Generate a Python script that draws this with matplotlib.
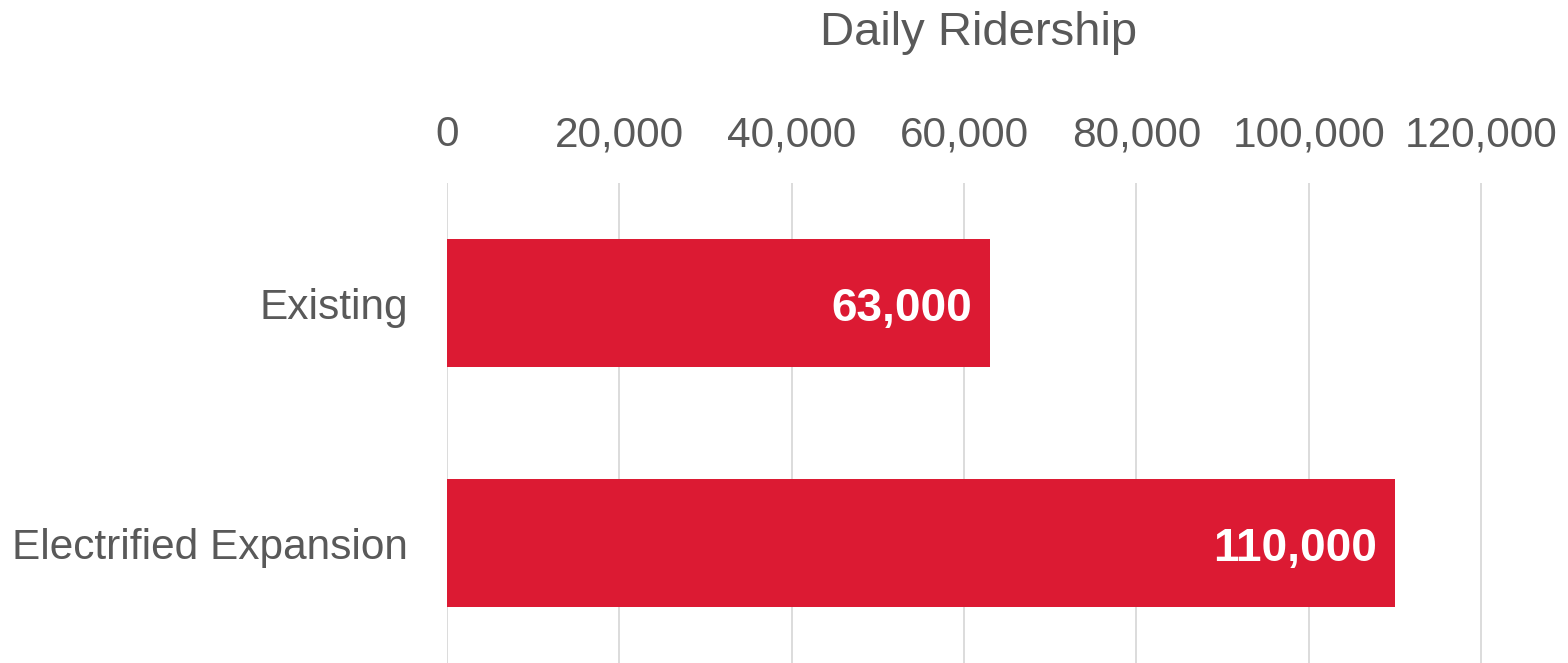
import matplotlib.pyplot as plt
from matplotlib.ticker import FuncFormatter

plt.rcParams['font.family'] = ['Liberation Sans', 'DejaVu Sans']

# data
categories = ['Existing', 'Electrified Expansion']
ridership = [63000, 110000]
x_ticks = [0, 20000, 40000, 60000, 80000, 100000, 120000]

text_gray = '#595959'
bar_red = '#DC1A33'

fig = plt.figure(figsize=(15.68, 6.63), dpi=100)
ax = fig.add_axes([447 / 1568, 0, 1064 / 1568, 1 - 183 / 663])

y_pos = list(range(len(categories)))
ax.barh(y_pos, ridership, height=0.535, color=bar_red, zorder=3)

for y, v in zip(y_pos, ridership):
    ax.annotate(f'{v:,}', xy=(v, y), xytext=(-13, -4), textcoords='offset points',
                ha='right', va='center', color='white', fontsize=33,
                fontweight='bold', zorder=4)

ax.set_xlim(0, 123480)
ax.set_ylim(1.5, -0.5)
ax.set_xticks(x_ticks)
ax.xaxis.set_major_formatter(FuncFormatter(lambda v, p: f'{int(v):,}'))
ax.xaxis.tick_top()
ax.set_yticks(y_pos)
ax.set_yticklabels(categories)
ax.tick_params(axis='x', length=0, pad=20, labelsize=30.5, labelcolor=text_gray)
ax.tick_params(axis='y', length=0, pad=28, labelsize=30.5, labelcolor=text_gray)
ax.grid(axis='x', color='#D9D9D9', linewidth=1.3, zorder=0)
for s in ax.spines.values():
    s.set_visible(False)

fig.text(979 / 1568, 1 - 33 / 663, 'Daily Ridership', ha='center', va='center',
         fontsize=34, color=text_gray)

fig.savefig('out.png', dpi=100)
